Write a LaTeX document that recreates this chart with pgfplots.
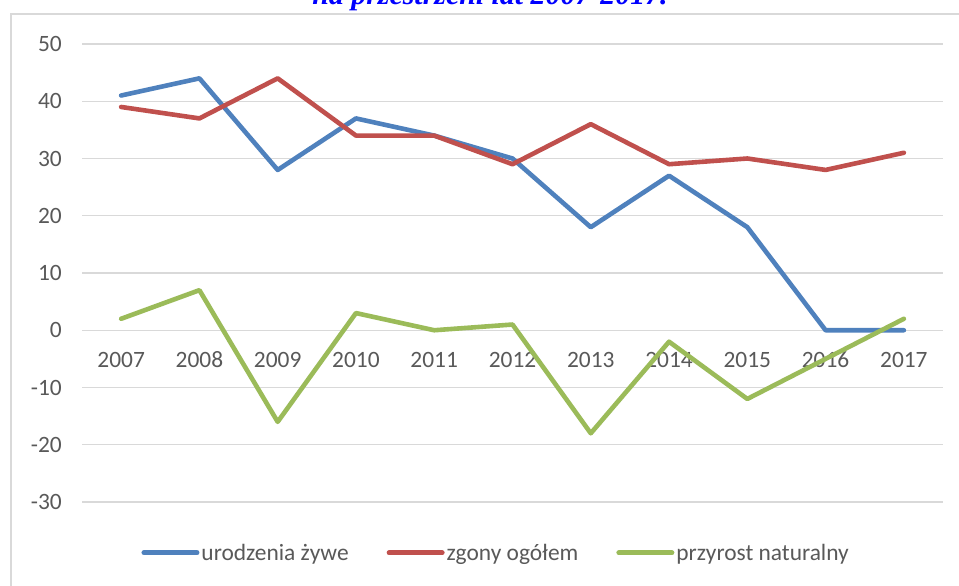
\documentclass[border=0pt]{standalone}
\usepackage{pgfplots}
\pgfplotsset{compat=1.18}
\usepackage{fontspec}
\setmainfont{Carlito}
\newfontfamily\titlefont{Liberation Serif}
\definecolor{cblue}{HTML}{4F81BD}
\definecolor{cred}{HTML}{C0504D}
\definecolor{cgreen}{HTML}{9BBB59}
\definecolor{ctext}{HTML}{595959}
\definecolor{cgrid}{HTML}{D9D9D9}
\begin{document}
\begin{tikzpicture}
\useasboundingbox (0bp,0bp) rectangle (959bp,586bp);
\clip (0bp,0bp) rectangle (959bp,586bp);
\fill[white] (0bp,0bp) rectangle (959bp,586bp);
\draw[cgrid, line width=2bp] (11bp,-5bp) -- (11bp,572bp) -- (965bp,572bp);
\node[anchor=base, text=blue, inner sep=0pt, font=\titlefont\bfseries\itshape\fontsize{30}{34}\selectfont] at (490bp,581bp) {na przestrzeni lat 2007-2017.};
\begin{axis}[
  at={(82bp,84bp)}, anchor=south west,
  scale only axis, width=861bp, height=458bp,
  xmin=-0.5, xmax=10.5, ymin=-30, ymax=50,
  axis x line*=middle, axis y line*=left,
  axis line style={draw=none},
  major tick length=0pt,
  xtick={0,...,10},
  xticklabels={2007,2008,2009,2010,2011,2012,2013,2014,2015,2016,2017},
  ytick={-30,-20,...,50},
  yticklabels={-30,-20,-10,0,10,20,30,40,50},
  ymajorgrids, grid style={cgrid, line width=1.2bp},
  tick label style={text=ctext, font=\fontsize{23.5}{28}\selectfont, inner sep=0pt},
  xticklabel style={anchor=base, yshift=-37.5bp},
  yticklabel style={anchor=east, xshift=-20bp},
  clip=false,
  legend columns=3,
  legend style={draw=none, fill=none, at={(0.481,-0.111)}, anchor=center,
    font=\fontsize{23.5}{28}\selectfont, text=ctext,
    /tikz/every even column/.append style={column sep=36bp},
    nodes={inner sep=2bp}},
  legend image code/.code={\draw[#1, line width=5bp, line cap=round] (0bp,0bp) -- (53bp,0bp);},
  every axis plot/.append style={line width=4.6bp, line join=round, line cap=round, mark=none},
]
\addplot[cblue] coordinates {(0,41) (1,44) (2,28) (3,37) (4,34) (5,30) (6,18) (7,27) (8,18) (9,0) (10,0)};
\addlegendentry{urodzenia żywe}
\addplot[cred] coordinates {(0,39) (1,37) (2,44) (3,34) (4,34) (5,29) (6,36) (7,29) (8,30) (9,28) (10,31)};
\addlegendentry{zgony ogółem}
\addplot[cgreen] coordinates {(0,2) (1,7) (2,-16) (3,3) (4,0) (5,1) (6,-18) (7,-2) (8,-12) (9,-5) (10,2)};
\addlegendentry{przyrost naturalny}
\end{axis}
\end{tikzpicture}
\end{document}
